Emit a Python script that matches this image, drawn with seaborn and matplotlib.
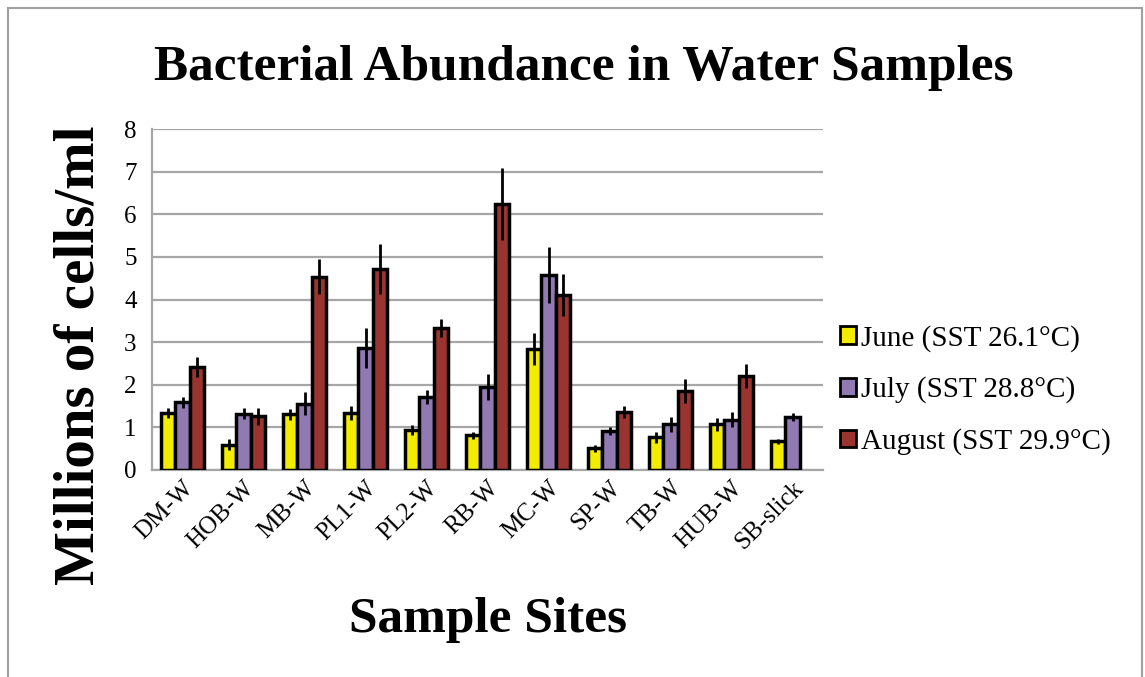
import numpy as np
import pandas as pd
import matplotlib
matplotlib.use("Agg")
import matplotlib.pyplot as plt
import seaborn as sns
from matplotlib.patches import Rectangle

sites = ["DM-W", "HOB-W", "MB-W", "PL1-W", "PL2-W", "RB-W", "MC-W", "SP-W", "TB-W", "HUB-W", "SB-slick"]
months = ["June (SST 26.1°C)", "July (SST 28.8°C)", "August (SST 29.9°C)"]

june = [1.34, 0.59, 1.31, 1.34, 0.94, 0.81, 2.84, 0.51, 0.77, 1.07, 0.67]
july = [1.59, 1.32, 1.55, 2.86, 1.71, 1.95, 4.57, 0.91, 1.07, 1.18, 1.24]
august = [2.42, 1.26, 4.53, 4.71, 3.33, 6.24, 4.11, 1.36, 1.85, 2.21, np.nan]

june_err = [0.12, 0.13, 0.13, 0.16, 0.12, 0.09, 0.38, 0.08, 0.13, 0.16, 0.05]
july_err = [0.13, 0.13, 0.27, 0.47, 0.17, 0.30, 0.65, 0.09, 0.18, 0.17, 0.09]
august_err = [0.24, 0.20, 0.41, 0.59, 0.22, 0.84, 0.49, 0.13, 0.28, 0.28, np.nan]

colors = ["#F2EC00", "#917AB1", "#9A3430"]

rows = []
for m, vals in zip(months, [june, july, august]):
    for s, v in zip(sites, vals):
        rows.append({"site": s, "month": m, "value": v})
df = pd.DataFrame(rows)
errs = [june_err, july_err, august_err]

sns.set_style("white")
plt.rcParams["font.family"] = ["Liberation Serif", "DejaVu Serif"]
plt.rcParams["text.color"] = "black"
plt.rcParams["xtick.color"] = "black"
plt.rcParams["ytick.color"] = "black"

fig = plt.figure(figsize=(11.45, 6.77), dpi=100)
ax = fig.add_axes([152 / 1145, 1 - 470 / 677, 671 / 1145, 341 / 677])

sns.barplot(data=df, x="site", y="value", hue="month", palette=colors, saturation=1,
            errorbar=None, width=0.69, edgecolor="black", linewidth=2.5,
            ax=ax, zorder=3)

# error bars from the bar patches
for cont, err in zip(ax.containers, errs):
    for bar, e in zip(cont, err):
        h = bar.get_height()
        if np.isnan(h) or np.isnan(e):
            continue
        xc = bar.get_x() + bar.get_width() / 2
        ax.errorbar(xc, h, yerr=e, fmt="none", ecolor="black", elinewidth=2, capsize=0, zorder=4)

ax.set_ylim(0, 8)
ax.set_xlim(-0.5, len(sites) - 0.5)
ax.set_yticks(range(0, 9))
ax.yaxis.grid(True, color="#A6A6A6", linewidth=1.6, zorder=0)
ax.set_axisbelow(True)
for sp in ["top", "right"]:
    ax.spines[sp].set_visible(False)
for sp in ["left", "bottom"]:
    ax.spines[sp].set_color("#A6A6A6")
    ax.spines[sp].set_linewidth(1.6)

ax.set_xticks(np.arange(-0.5, len(sites), 1.0), minor=True)
ax.tick_params(axis="x", which="minor", length=7, width=1.6, color="#A6A6A6", direction="out")
ax.tick_params(axis="x", which="major", length=0, pad=5)
ax.tick_params(axis="y", length=7, width=1.6, color="#A6A6A6", direction="out", labelsize=18, pad=4)
ax.set_xticks(range(len(sites)))
ax.set_xticklabels(sites, rotation=45, ha="right", rotation_mode="anchor", fontsize=18)

ax.set_xlabel("")
ax.set_ylabel("")
fig.text(80 / 1145, 1 - 355 / 677, "Millions of cells/ml", rotation=90, ha="center", va="center",
         fontsize=41, fontweight="bold")
fig.text(488 / 1145, 1 - 620 / 677, "Sample Sites", ha="center", va="center",
         fontsize=37, fontweight="bold")
fig.text(584 / 1145, 1 - 68 / 677, "Bacterial Abundance in Water Samples", ha="center", va="center",
         fontsize=37, fontweight="bold")

leg = ax.legend(loc="center left", bbox_to_anchor=(814 / 1145, 1 - 390 / 677),
                bbox_transform=fig.transFigure, frameon=False, fontsize=21,
                handlelength=0.55, handleheight=0.55, handletextpad=0.15, labelspacing=0.85)
for h in leg.legend_handles:
    h.set_edgecolor("black")
    h.set_linewidth(2)

fig.patches.append(Rectangle((8 / 1145, -0.01), 1134 / 1145, 1 - 8 / 677 + 0.01,
                             transform=fig.transFigure, fill=False, edgecolor="#A0A0A0", linewidth=1.5))

fig.savefig("out.png", dpi=100)
